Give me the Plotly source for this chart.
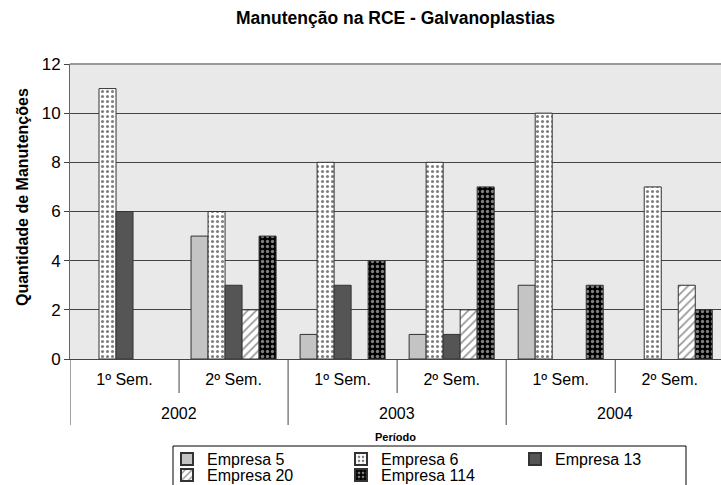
import plotly.graph_objects as go

years = ["2002", "2003", "2004"]
semesters = ["1º Sem.", "2º Sem.", "1º Sem.", "2º Sem.", "1º Sem.", "2º Sem."]
periods = ["2002 1º", "2002 2º", "2003 1º", "2003 2º", "2004 1º", "2004 2º"]

empresa_5 = [0, 5, 1, 1, 3, 0]
empresa_6 = [11, 6, 8, 8, 10, 7]
empresa_13 = [6, 3, 3, 1, 0, 0]
empresa_20 = [0, 2, 0, 2, 0, 3]
empresa_114 = [0, 5, 4, 7, 3, 2]

series = [
    ("Empresa 5", empresa_5, dict(color="#c4c4c4"), "legend"),
    ("Empresa 6", empresa_6, dict(color="white", pattern=dict(shape=".", fgcolor="black", bgcolor="white", size=5, solidity=0.3)), "legend"),
    ("Empresa 13", empresa_13, dict(color="#555555"), "legend"),
    ("Empresa 20", empresa_20, dict(color="white", pattern=dict(shape="/", fgcolor="#333333", bgcolor="white", size=6, solidity=0.3)), "legend2"),
    ("Empresa 114", empresa_114, dict(color="black", pattern=dict(shape=".", fgcolor="white", bgcolor="black", size=5, solidity=0.35)), "legend2"),
]

FONT = "Liberation Sans, Arial, sans-serif"
LINE = "#444444"
W, H = 721, 485
L, T, B = 70, 64, 126
PH = H - T - B  # plot height in px

fig = go.Figure()
for name, vals, mk, lg in series:
    mk = dict(mk)
    mk["line"] = dict(color="#333333", width=1)
    fig.add_trace(go.Bar(name=name, x=periods, y=[v if v else None for v in vals],
                         marker=mk, legend=lg))

leg_common = dict(orientation="h", xref="container", yref="container",
                  x=167 / W, xanchor="left", yanchor="middle",
                  bgcolor="rgba(0,0,0,0)", borderwidth=0, entrywidth=129,
                  font=dict(size=16), tracegroupgap=0, traceorder="normal",
                  itemsizing="constant")

fig.update_layout(
    width=W, height=H,
    margin=dict(l=L, r=0, t=T, b=B, autoexpand=False),
    paper_bgcolor="white",
    plot_bgcolor="#e9e9e9",
    barmode="group",
    bargap=0.22,
    bargroupgap=0,
    font=dict(family=FONT, size=16, color="black"),
    title=dict(text="<b>Manutenção na RCE - Galvanoplastias</b>", x=0.5, xref="paper",
               xanchor="center", y=1 - 18 / H, yref="container", yanchor="middle",
               font=dict(size=17.5)),
    showlegend=True,
    legend=dict(leg_common, y=1 - 459 / H),
    legend2=dict(leg_common, y=1 - 475 / H),
)

fig.update_yaxes(
    range=[0, 12], dtick=2, showgrid=True, gridcolor=LINE, gridwidth=1,
    showline=True, linecolor="#666666", ticks="outside", ticklen=5, tickcolor=LINE,
    tickfont=dict(size=17), automargin=False, zeroline=False,
)
fig.update_xaxes(
    type="category", range=[-0.5, 5.47], showline=True, linecolor=LINE,
    tickvals=periods, ticktext=semesters, ticks="", ticklabelstandoff=6,
    tickfont=dict(size=16), showgrid=False, automargin=False,
)

# y-axis title
fig.add_annotation(text="<b>Quantidade de Manutenções</b>", xref="paper", yref="paper",
                   x=-48 / (W - L), y=(H - B - 197) / PH, textangle=-90, showarrow=False,
                   font=dict(size=16), xanchor="center", yanchor="middle")

# top border of plot area
fig.add_shape(type="line", xref="paper", yref="paper", x0=0, x1=1, y0=1, y1=1,
              line=dict(color="#999999", width=2))

# semester dividers (short) and year dividers (long)
n = len(periods)
for i in range(n + 1):
    xb = i - 0.5
    long_div = (i % 2 == 0)
    fig.add_shape(type="line", xref="x", yref="paper", x0=xb, x1=xb,
                  y0=0, y1=(-66 / PH if long_div else -34 / PH),
                  line=dict(color=LINE, width=1))

for k, yr in enumerate(years):
    fig.add_annotation(text=yr, xref="x", yref="paper", x=2 * k + 0.5, y=-54 / PH,
                       showarrow=False, font=dict(size=16), yanchor="middle")

fig.add_annotation(text="<b>Período</b>", xref="paper", yref="paper", x=0.5, y=-78 / PH,
                   showarrow=False, font=dict(size=11), xanchor="center", yanchor="middle")

# legend frame
fig.add_shape(type="rect", xref="paper", yref="paper",
              x0=(173 - L) / (W - L), x1=(686 - L) / (W - L),
              y0=-(446 - (H - B)) / PH, y1=-(500 - (H - B)) / PH,
              line=dict(color="black", width=1), fillcolor="rgba(0,0,0,0)")

fig.write_html("out.html", config={"displayModeBar": False},
               post_script="document.body.style.margin='0';document.body.style.overflow='hidden';")
